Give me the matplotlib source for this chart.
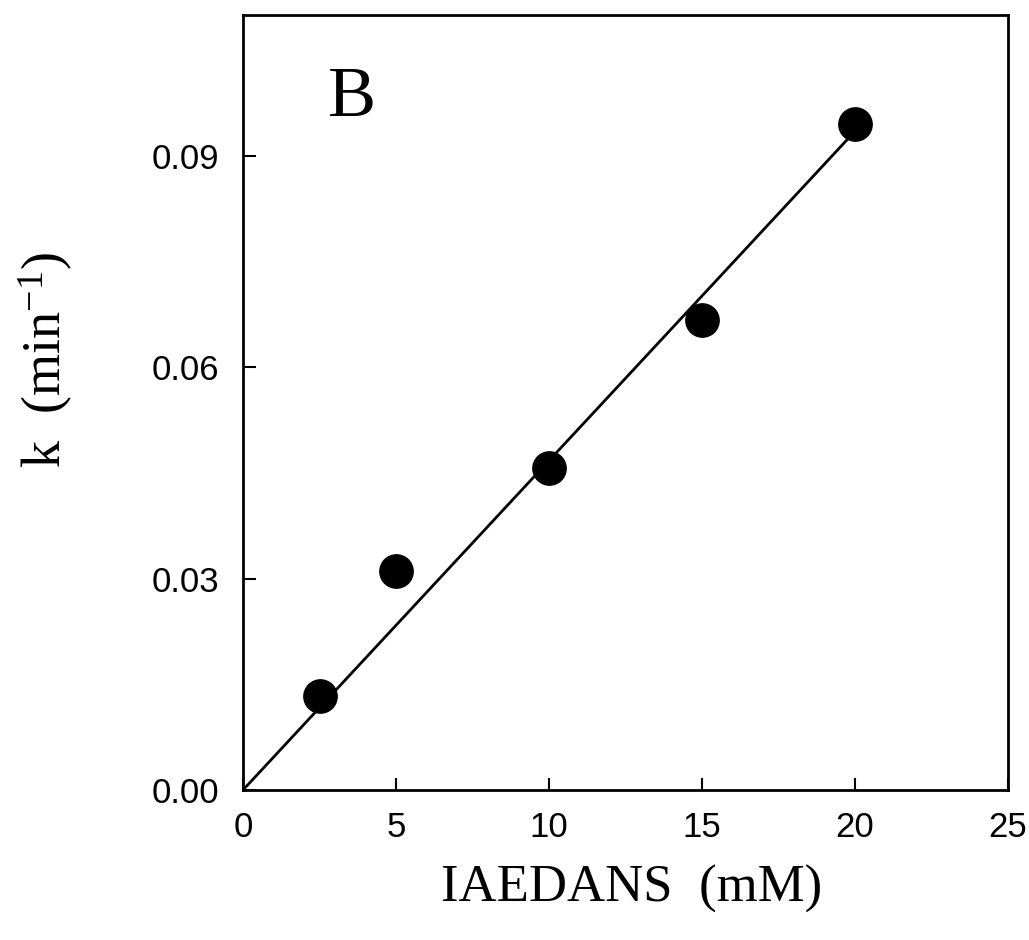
import numpy as np
from matplotlib import pyplot as plt

conc = [2.5, 5.0, 10.0, 15.0, 20.0]
rate = [0.0133, 0.0311, 0.0457, 0.0667, 0.0945]

# fitted line end points
fit_x = [0.0, 20.0]
fit_y = [0.0, 0.0935]

xticks = [0, 5, 10, 15, 20, 25]
yticks = [0.00, 0.03, 0.06, 0.09]

plt.rcParams['mathtext.default'] = 'regular'

fig = plt.figure(figsize=(10.29, 9.4), dpi=100)
ax = fig.add_axes([0.2362, 0.1596, 0.7434, 0.8245])

ax.plot(fit_x, fit_y, color='black', lw=2.0)
ax.plot(conc, rate, 'o', color='black', markersize=24, clip_on=False)

ax.set_xlim(0, 25)
ax.set_ylim(0, 0.11)
ax.set_xticks(xticks)
ax.set_yticks(yticks)
ax.set_xticklabels([str(v) for v in xticks])
ax.set_yticklabels(["%.2f" % v for v in yticks])

for s in ax.spines.values():
    s.set_linewidth(2.0)
ax.tick_params(direction='in', length=9, width=1.5, labelsize=25, top=False, right=False)
ax.tick_params(axis='x', pad=15)
ax.tick_params(axis='y', pad=17)
for lbl in ax.get_xticklabels() + ax.get_yticklabels():
    lbl.set_family('Liberation Sans')

ax.set_xlabel("IAEDANS  (mM)", family='Liberation Serif', fontsize=38, va='center')
ax.set_ylabel("k  (min$^{-1}$)", family='Liberation Serif', fontsize=39, va='center')
ax.xaxis.set_label_coords(0.508, -0.128)
ax.yaxis.set_label_coords(-0.258, 0.555)

ax.text(3.56, 0.0982, "B", family='Liberation Serif', fontsize=52, ha='center', va='center')

plt.savefig('out.png', dpi=100)
